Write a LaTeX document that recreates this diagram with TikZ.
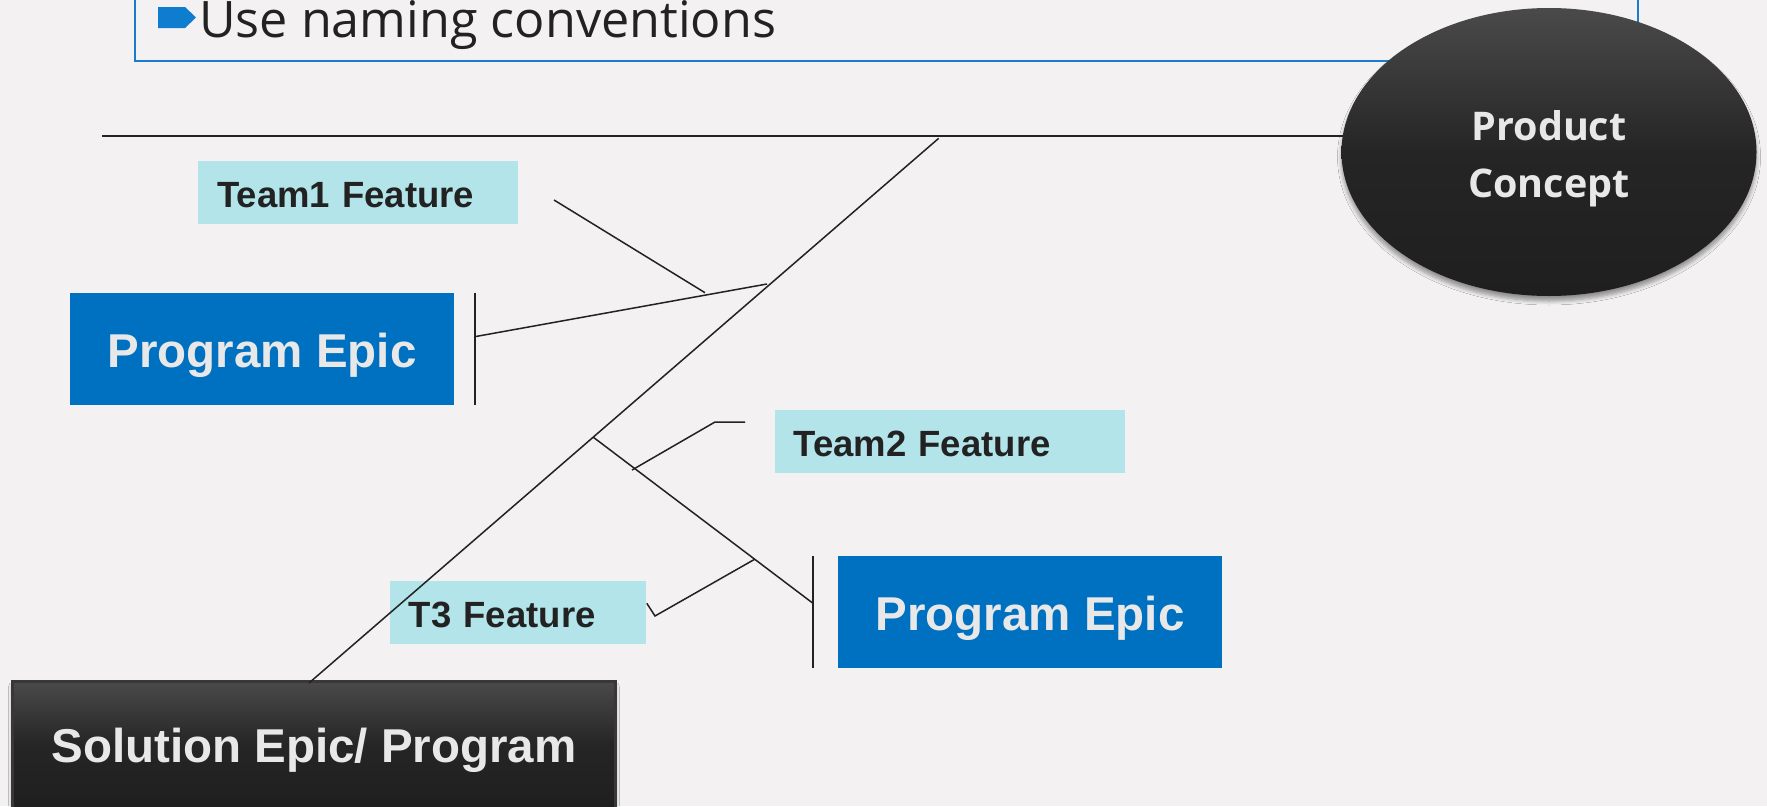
\documentclass[tikz,border=0pt]{standalone}
\usepackage{fontspec}
\setmainfont{Liberation Sans}
\newfontfamily\osans{Open Sans}
\usetikzlibrary{shapes.geometric,shadows.blur}
\definecolor{bgc}{HTML}{F3F1F1}
\definecolor{epicblue}{HTML}{0070C0}
\definecolor{featcyan}{HTML}{B2E4EA}
\definecolor{frameblue}{HTML}{1A7ACB}
\definecolor{bulletblue}{HTML}{0E7CCF}
\definecolor{inkc}{HTML}{222222}
\definecolor{lighttxt}{HTML}{E8E8E8}
\definecolor{darktop}{HTML}{4A4A4A}
\definecolor{darkmid}{HTML}{252525}
\definecolor{darkbot}{HTML}{1F1F1F}
\begin{document}
\begin{tikzpicture}[x=1pt,y=-1pt,
  feat/.style={fill=featcyan, anchor=north west, inner xsep=19pt, inner ysep=0pt,
    text width=#1, align=left, minimum height=62.7pt,
    font=\bfseries\fontsize{36.5}{40}\selectfont, text=inkc, text height=30pt, text depth=0pt},
  epic/.style={fill=epicblue, anchor=north west, minimum width=384pt, minimum height=111.7pt,
    inner sep=0pt, font=\bfseries\fontsize{47.5}{55}\selectfont, text=lighttxt,
    text height=37pt, text depth=0pt},
  darkshade/.style={top color=darktop, bottom color=darkbot, middle color=darkmid},
  softshadow/.style={blur shadow={shadow xshift=0pt, shadow yshift=-5pt,
    shadow blur radius=4pt, shadow blur steps=6, shadow opacity=40}},
  fish/.style={draw=inkc, line width=1.5pt},
  barline/.style={draw=inkc, line width=2pt},
]
\useasboundingbox (0,0) rectangle (1767,806);
\clip (0,0) rectangle (1767,806);
\fill[bgc] (0,0) rectangle (1767,806);

% top frame with bullet text
\node[draw=frameblue, line width=2pt, anchor=south west, minimum width=1503.3pt,
  minimum height=90pt, inner sep=0pt] (frame) at (134,61.7) {};
\fill[bulletblue] (158,7) -- (185,7) -- (196,17.5) -- (185,28) -- (158,28) -- cycle;
\node[anchor=base west, inner sep=0pt, font=\osans\fontsize{50.3}{55}\selectfont, text=inkc]
  (conv) at (199,37) {Use naming conventions};

% product concept
\node[ellipse, minimum width=415pt, minimum height=288pt, inner sep=0pt, darkshade, softshadow,
  font=\osans\bfseries\fontsize{39.5}{57.7}\selectfont, text=lighttxt, align=center,
  text height=91.5pt, text depth=0pt] (pc) at (1549,152) {Product\\Concept};

% boxes
\node[feat=282pt] (t1) at (198,161) {Team1 Feature};
\node[epic] (pe1) at (70,293) {Program Epic};
\node[feat=312.6pt] (t2) at (774.4,410) {Team2 Feature};
\node[epic] (pe2) at (838,556) {Program Epic};
\node[feat=218.3pt] (t3) at (389.7,581) {T3 Feature};
\node[epic, darkshade, softshadow, draw=inkc!90!white, line width=2.5pt, minimum width=602.6pt,
  minimum height=128pt, text height=35.4pt] (sol) at (11.4,680) {Solution Epic/ Program};

% fishbone coordinates
\coordinate (hlA) at (102,135.7);
\coordinate (hlB) at (1343,135.7);
\coordinate (spT) at (938.7,138.3);
\coordinate (spB) at (309,683);
\coordinate (bL) at (474.7,336.7);
\coordinate (bLs) at (767,284);
\coordinate (t1a) at (554,200);
\coordinate (t1b) at (705,292.7);
\coordinate (bRs) at (593,437);
\coordinate (bR) at (812.6,603);
\coordinate (t2a) at (745,422);
\coordinate (t2b) at (715,422);
\coordinate (t2c) at (632,470);
\coordinate (t3a) at (754.6,559.3);
\coordinate (t3b) at (655,616);
\coordinate (t3c) at (646.8,603.3);
\coordinate (vLt) at (474.7,293);
\coordinate (vLb) at (474.7,404.7);
\coordinate (vRt) at (812.6,556);
\coordinate (vRb) at (812.6,668);

\draw[fish, line width=2.3pt] (hlA) -- (hlB);
\draw[fish] (spT) -- (spB);
\draw[fish] (bL) -- (bLs);
\draw[fish] (t1a) -- (t1b);
\draw[fish] (bRs) -- (bR);
\draw[fish] (t2a) -- (t2b) -- (t2c);
\draw[fish] (t3a) -- (t3b) -- (t3c);
\draw[barline] (vLt) -- (vLb);
\draw[barline] (vRt) -- (vRb);
\end{tikzpicture}
\end{document}
